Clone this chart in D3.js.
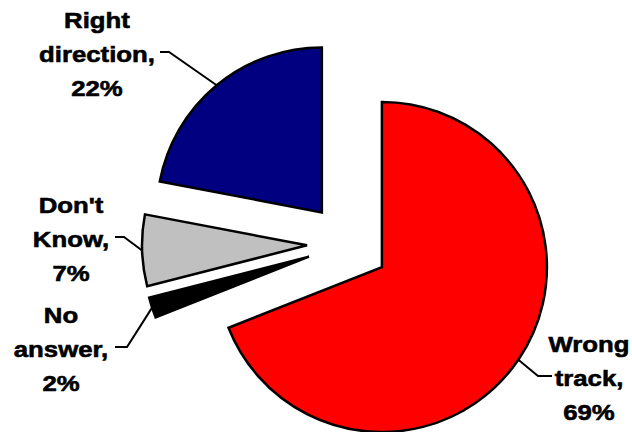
<!DOCTYPE html>
<html>
<head>
<meta charset="utf-8">
<script src="https://cdn.jsdelivr.net/npm/d3@7"></script>
<style>
  body { margin: 0; background: #fff; }
  text { font-family: "Liberation Sans", Arial, sans-serif; font-weight: bold; fill: #000; stroke: #000; stroke-width: 0.6px; }
</style>
</head>
<body>
<svg id="chart" width="632" height="432"></svg>
<script>
// Data (clockwise from 12 o'clock)
const categories = ["Wrong track", "No answer", "Don't Know", "Right direction"];
const values = [69, 2, 7, 22];
const labelLines = [["Wrong", "track,", "69%"], ["No", "answer,", "2%"], ["Don't", "Know,", "7%"], ["Right", "direction,", "22%"]];
const colors = ["#FF0000", "#000000", "#C0C0C0", "#000080"];

// layout
const cx = 348, cy = 244;
const radius = 165;
const explode = 41;
const lineH = 34;
// label position (centre x, first baseline) and the short horizontal leader piece
const labelPos = {
  "Wrong track":     {x: 589, y: 352, h0: 552, h1: 538},
  "No answer":       {x: 61,  y: 323, h0: 115, h1: 127},
  "Don't Know":      {x: 71,  y: 213, h0: 115, h1: 124},
  "Right direction": {x: 97,  y: 28,  h0: 160, h1: 169}
};

const svg = d3.select('#chart');

const pie = d3.pie().sort(null).value(d => d.value);
const arcs = pie(categories.map((c, i) => ({key: c, value: values[i], color: colors[i], lines: labelLines[i]})));

const arc = d3.arc().innerRadius(0).outerRadius(radius);

function polar(a, r) { return [r * Math.sin(a), -r * Math.cos(a)]; }

const slices = svg.append('g').attr('transform', `translate(${cx},${cy})`);

arcs.forEach(d => {
  const mid = (d.startAngle + d.endAngle) / 2;
  const off = polar(mid, explode);
  const g = slices.append('g').attr('transform', `translate(${off[0]},${off[1]})`);
  g.append('path')
    .attr('d', arc(d))
    .attr('fill', d.data.color)
    .attr('stroke', '#000')
    .attr('stroke-width', 2.5)
    .attr('stroke-linejoin', 'miter');

  // leader line from arc edge to label
  const lp = labelPos[d.data.key];
  const edge = polar(mid, radius);
  const ex = cx + off[0] + edge[0], ey = cy + off[1] + edge[1];
  const hy = lp.y + lineH - 10;
  svg.append('path')
    .attr('d', `M${lp.h0},${hy}L${lp.h1},${hy}L${ex},${ey}`)
    .attr('fill', 'none')
    .attr('stroke', '#000')
    .attr('stroke-width', 2);

  const t = svg.append('text')
    .attr('transform', `translate(${lp.x},${lp.y}) scale(1.12,1)`)
    .attr('text-anchor', 'middle')
    .attr('font-size', 23);
  d.data.lines.forEach((s, i) => {
    t.append('tspan').attr('x', 0).attr('y', i * lineH).text(s);
  });
});
</script>
</body>
</html>
